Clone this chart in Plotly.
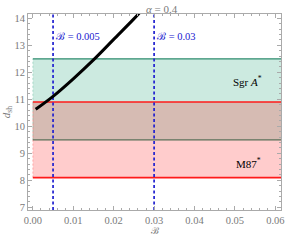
import plotly.graph_objects as go

# data
b_vals = [0.0007, 0.005, 0.010, 0.015, 0.020, 0.025, 0.0265]
dsh_vals = [10.63, 11.11, 11.76, 12.46, 13.22, 13.98, 14.22]
sgr_band = [9.5, 12.5]
m87_band = [8.1, 10.9]
band_x = [0.0, 0.0616]
b_marks = [0.005, 0.03]
b_mark_labels = ["ℬ = 0.005", "ℬ = 0.03"]
x_ticks = [0.00, 0.01, 0.02, 0.03, 0.04, 0.05, 0.06]
y_ticks = [7, 8, 9, 10, 11, 12, 13, 14]

FONT = "Liberation Serif"
GRAY = "#7a7a7a"
BLUE = "#2020d0"

fig = go.Figure()

def band(lo_hi, fill, line, edge, lw):
    lo, hi = lo_hi
    fig.add_trace(go.Scatter(
        x=[band_x[0], band_x[1], band_x[1], band_x[0], band_x[0]],
        y=[lo, lo, hi, hi, lo], fill="toself", fillcolor=fill,
        line=dict(width=0), mode="lines", hoverinfo="skip", showlegend=False))
    fig.add_trace(go.Scatter(x=[band_x[0], band_x[0]], y=[lo, hi], mode="lines",
                             line=dict(color=edge, width=1, dash="2px,2px"),
                             hoverinfo="skip", showlegend=False))
    for v in (lo, hi):
        fig.add_trace(go.Scatter(x=band_x, y=[v, v], mode="lines",
                                 line=dict(color=line, width=lw),
                                 hoverinfo="skip", showlegend=False))

band(sgr_band, "rgba(0,150,100,0.2)", "#2e8b6e", "rgba(0,150,100,0.25)", 1.3)
band(m87_band, "rgba(255,0,0,0.2)", "#ff1a1a", "rgba(255,0,0,0.25)", 1.6)

for bm in b_marks:
    fig.add_trace(go.Scatter(x=[bm, bm], y=[6.9, 14.2], mode="lines",
                             line=dict(color=BLUE, width=1.7, dash="3px,2.5px"),
                             showlegend=False, hoverinfo="skip"))

fig.add_trace(go.Scatter(x=b_vals, y=dsh_vals, mode="lines",
                         line=dict(color="black", width=3, shape="spline"),
                         showlegend=False))

for bm, lab in zip(b_marks, b_mark_labels):
    fig.add_annotation(x=bm, y=13.32, text=lab, showarrow=False, xanchor="left",
                       xshift=1, font=dict(family=FONT, size=10.5, color=BLUE))

fig.add_annotation(x=0.053, y=11.69, text="Sgr <i>A</i><sup>*</sup>", showarrow=False,
                   font=dict(family=FONT, size=11, color="black"))
fig.add_annotation(x=0.0534, y=8.63, text="M87<sup>*</sup>", showarrow=False,
                   font=dict(family=FONT, size=11, color="black"))

fig.add_annotation(xref="paper", yref="paper", x=0.53, y=1.0, yshift=-3, yanchor="bottom",
                   text="<i>α</i> = 0.4", showarrow=False,
                   font=dict(family=FONT, size=11, color=GRAY))

fig.add_annotation(xref="paper", yref="paper", x=0.5, y=0.0, yshift=-21, yanchor="middle",
                   text="ℬ", showarrow=False, borderpad=0,
                   font=dict(family=FONT, size=9.5, color=GRAY))

axis_common = dict(showgrid=False, zeroline=False, showline=True, linecolor="#aaaaaa",
                   linewidth=1, mirror="allticks", ticks="inside", ticklen=4,
                   tickcolor="#aaaaaa", ticklabeloverflow="allow",
                   tickfont=dict(family=FONT, size=10.5, color=GRAY))

fig.update_layout(
    width=289, height=241, margin=dict(l=28, r=5, t=14, b=31),
    plot_bgcolor="white", paper_bgcolor="white",
    xaxis=dict(range=[-0.0012, 0.0614], tickvals=x_ticks,
               ticktext=[f"{v:.2f}" for v in x_ticks],
               minor=dict(ticks="inside", ticklen=2, tickcolor="#aaaaaa", dtick=0.002),
               **axis_common),
    yaxis=dict(range=[6.9, 14.16], tickvals=y_ticks,
               minor=dict(ticks="inside", ticklen=2, tickcolor="#aaaaaa", dtick=0.2),
               title=dict(text="<i>d</i><sub>sh</sub>", font=dict(family=FONT, size=11, color=GRAY), standoff=2),
               **axis_common),
)

fig.write_html("out.html", config={"displayModeBar": False},
               post_script="document.body.style.margin='0';document.body.style.overflow='hidden';")
